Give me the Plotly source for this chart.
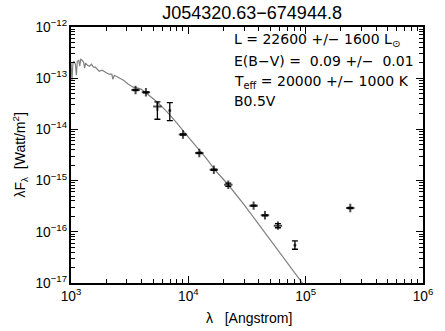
import plotly.graph_objects as go

# Model spectrum (wavelength in Angstrom, lambda*F_lambda in W/m^2)
model_wave = [1000, 1019, 1039, 1059, 1090, 1111, 1132, 1165, 1187, 1210, 1245, 1282,
              1306, 1331, 1383, 1437, 1493, 1551, 1611, 1674, 1739, 1841, 1950, 2104,
              2228, 2271, 2337, 2547, 2803, 3084, 3390, 3728, 3948, 4182, 4513, 5463,
              6610, 8000, 9681, 11720, 14180, 17160, 21990, 30410, 44550, 65220, 93720]
model_flux = [2.05e-13, 9.14e-14, 1.96e-13, 2.14e-13, 1.87e-13, 1.14e-13, 2.14e-13, 2.24e-13,
              1.71e-13, 2.34e-13, 2.24e-13, 2.05e-13, 1.57e-13, 1.96e-13, 1.79e-13, 1.71e-13,
              1.87e-13, 1.64e-13, 1.64e-13, 1.50e-13, 1.37e-13, 1.43e-13, 1.31e-13, 1.20e-13,
              1.20e-13, 9.57e-14, 1.14e-13, 1.04e-13, 9.14e-14, 7.64e-14, 6.68e-14, 6.38e-14,
              6.11e-14, 5.58e-14, 4.88e-14, 3.40e-14, 2.17e-14, 1.33e-14, 7.74e-15, 4.72e-15,
              2.76e-15, 1.54e-15, 8.20e-16, 3.20e-16, 9.95e-17, 3.10e-17, 9.95e-18]

# Photometry
obs_wave = [3550, 4350, 5450, 6950, 9000, 12400, 16500, 21900, 36000, 45000, 58000, 81000, 240000]
obs_flux = [5.9e-14, 5.3e-14, 2.8e-14, 2.34e-14, 7.96e-15, 3.45e-15, 1.63e-15, 8.3e-16,
            3.24e-16, 2.10e-16, 1.32e-16, 5.46e-17, 2.92e-16]
obs_err_plus = [1.5e-15, 1.3e-15, 0.65e-14, 1.0e-14, 2.0e-16, 0.9e-16, 0.5e-16, 0.6e-16,
                0.8e-17, 0.5e-17, 1.2e-17, 1.2e-17, 0.7e-17]
obs_err_minus = [1.5e-15, 1.3e-15, 1.22e-14, 0.85e-14, 2.0e-16, 0.9e-16, 0.5e-16, 0.6e-16,
                 0.8e-17, 0.5e-17, 1.2e-17, 0.9e-17, 0.7e-17]
marker_sizes = [6, 6, 6, 2, 6, 6, 6, 6, 6, 6, 6, 2, 6]

title_text = "J054320.63\u2212674944.8"
x_title = "\u03bb\u00a0\u00a0\u00a0[Angstrom]"
y_title = "\u03bbF<sub>\u03bb</sub>\u00a0\u00a0[Watt/m<sup>2</sup>]"
info_lines = [
    "L =\u00a022600 +/\u2212\u00a01600 L<sub>\u2299</sub>",
    "E(B\u2212V) =\u00a0\u00a00.09 +/\u2212\u00a0\u00a00.01",
    "T<sub>eff</sub> =\u00a020000 +/\u2212\u00a01000 K",
    "B0.5V",
]
info_y = [0.951, 0.866, 0.784, 0.709]

fig = go.Figure()
fig.add_trace(go.Scatter(x=model_wave, y=model_flux, mode="lines",
                         line=dict(color="#808080", width=1.2), hoverinfo="skip"))
fig.add_trace(go.Scatter(
    x=obs_wave, y=obs_flux, mode="markers",
    marker=dict(symbol="cross-thin", size=marker_sizes, color="black",
                line=dict(width=2, color="black")),
    error_y=dict(type="data", symmetric=False, array=obs_err_plus,
                 arrayminus=obs_err_minus, color="black", thickness=1.3, width=3),
))

axis_common = dict(
    type="log", showgrid=False, zeroline=False, showline=True, linecolor="black",
    linewidth=1.5, mirror="allticks", ticks="inside", ticklen=7, tickwidth=1,
    tickcolor="black", dtick=1, exponentformat="power",
    tickfont=dict(family="Liberation Sans, Arial", size=11, color="black"),
    minor=dict(ticks="inside", ticklen=4, tickwidth=1, tickcolor="black", dtick="D1"),
)

fig.update_layout(
    width=445, height=331,
    margin=dict(l=71, r=12, t=27, b=48),
    paper_bgcolor="white", plot_bgcolor="white",
    showlegend=False,
    title=dict(text=title_text, x=0.5665, xanchor="center", y=0.962, yanchor="middle",
               font=dict(family="Liberation Sans, Arial", size=18, color="black")),
    xaxis=dict(axis_common, range=[3, 6]),
    yaxis=dict(axis_common, range=[-17, -12]),
    font=dict(family="Liberation Sans, Arial", color="black"),
)

fig.add_annotation(text=x_title, xref="paper", yref="paper", x=0.5055, y=0,
                   yshift=-35, xanchor="center", yanchor="middle", showarrow=False,
                   font=dict(family="Liberation Sans, Arial", size=14, color="black"))
fig.add_annotation(text=y_title, xref="paper", yref="paper", x=-0.1436, y=0.5,
                   xanchor="center", yanchor="middle", textangle=-90, showarrow=False,
                   font=dict(family="Liberation Sans, Arial", size=14, color="black"))

for txt, yy in zip(info_lines, info_y):
    fig.add_annotation(text=txt, xref="paper", yref="paper", x=0.458, y=yy,
                       xanchor="left", yanchor="middle", showarrow=False,
                       font=dict(family="DejaVu Sans", size=14, color="black"))

fig.write_html("out.html")
